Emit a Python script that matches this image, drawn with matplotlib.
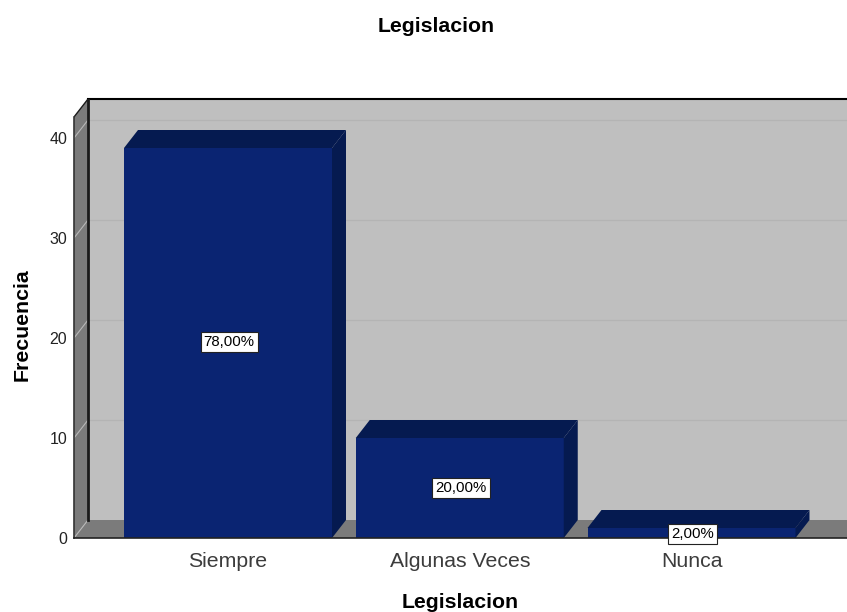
import matplotlib
matplotlib.use('Agg')
import matplotlib.pyplot as plt
from matplotlib.patches import Polygon

categories = ['Siempre', 'Algunas Veces', 'Nunca']
values = [39, 10, 1]
percent_labels = ['78,00%', '20,00%', '2,00%']
yticks = [0, 10, 20, 30, 40]

plt.rcParams['font.family'] = ['Liberation Sans', 'DejaVu Sans']

W, H = 847, 612
fig = plt.figure(figsize=(W / 100, H / 100), dpi=100)
# axes box runs from the front of the floor to the top of the back wall
ax = fig.add_axes([74 / W, 1 - 538 / H, (W - 74) / W, (538 - 99) / H])
ax.set_ylim(0, 43.9)
ax.set_xlim((74 - 228) / 231.75, (W - 228) / 231.75)
for s in ax.spines.values():
    s.set_visible(False)

dx = 14 / 231.75
dy = 1.8
bar_w = 208 / 231.75
x0, x1 = ax.get_xlim()

wall = '#bfbfbf'
side = '#7b7b7b'
front = '#0a2472'
dark = '#051a50'

ax.add_patch(Polygon([(x0 + dx, dy), (x1, dy), (x1, 43.9), (x0 + dx, 43.9)], color=wall, lw=0, zorder=1))
ax.add_patch(Polygon([(x0, 0), (x0 + dx, dy), (x0 + dx, 43.9), (x0, 43.9 - dy)], color=side, lw=0, zorder=1))
ax.add_patch(Polygon([(x0, 0), (x0 + dx, dy), (x1, dy), (x1, 0)], color=side, lw=0, zorder=1))

for t in yticks[1:]:
    ax.plot([x0 + dx, x1], [t + dy, t + dy], color='#b4b4b4', lw=0.9, zorder=2)
for t in yticks:
    ax.plot([x0, x0 + dx], [t, t + dy], color='#b8b8b8', lw=0.8, zorder=2)

ax.plot([x0 + dx, x1], [43.9, 43.9], color='black', lw=1.5, zorder=3, clip_on=False)
ax.plot([x0 + dx, x0 + dx], [dy, 43.9], color='#1a1a1a', lw=2, zorder=3)
ax.plot([x0, x0 + dx], [43.9 - dy, 43.9], color='#1a1a1a', lw=1, zorder=3)
ax.plot([x0, x0], [0, 43.9 - dy], color='#333333', lw=1.2, zorder=3, clip_on=False)

xs = range(len(categories))
ax.bar(xs, values, width=bar_w, color=front, zorder=4)
for x, v in zip(xs, values):
    l, r = x - bar_w / 2, x + bar_w / 2
    ax.add_patch(Polygon([(l, v), (l + dx, v + dy), (r + dx, v + dy), (r, v)], color=dark, lw=0, zorder=4))
    ax.add_patch(Polygon([(r, 0), (r + dx, dy), (r + dx, v + dy), (r, v)], color=dark, lw=0, zorder=4))

ax.plot([x0, x1], [0, 0], color='#222222', lw=1.2, zorder=5, clip_on=False)

label_y = [19.6, 5, 0.45]
for x, y, s in zip(xs, label_y, percent_labels):
    ax.text(x + 0.005, y, s, ha='center', va='center', fontsize=10.8, color='black', zorder=6,
            bbox=dict(boxstyle='square,pad=0.2', fc='white', ec='#222222', lw=0.8))

ax.set_xticks(list(xs))
ax.set_xticklabels(categories, fontsize=15.3, color='#3c3c3c')
ax.set_yticks(yticks)
ax.set_yticklabels([str(t) for t in yticks], fontsize=11.5, color='#222222')
ax.tick_params(axis='both', length=0)
ax.tick_params(axis='x', pad=10)
ax.tick_params(axis='y', pad=5)

fig.text(436 / W, 1 - 26 / H, 'Legislacion', ha='center', va='center', fontsize=15.3, fontweight='bold')
fig.text(460 / W, 1 - 602 / H, 'Legislacion', ha='center', va='center', fontsize=15.3, fontweight='bold')
fig.text(22 / W, 1 - 325 / H, 'Frecuencia', ha='center', va='center', rotation=90, fontsize=15.3, fontweight='bold')

fig.savefig('out.png', dpi=100)
